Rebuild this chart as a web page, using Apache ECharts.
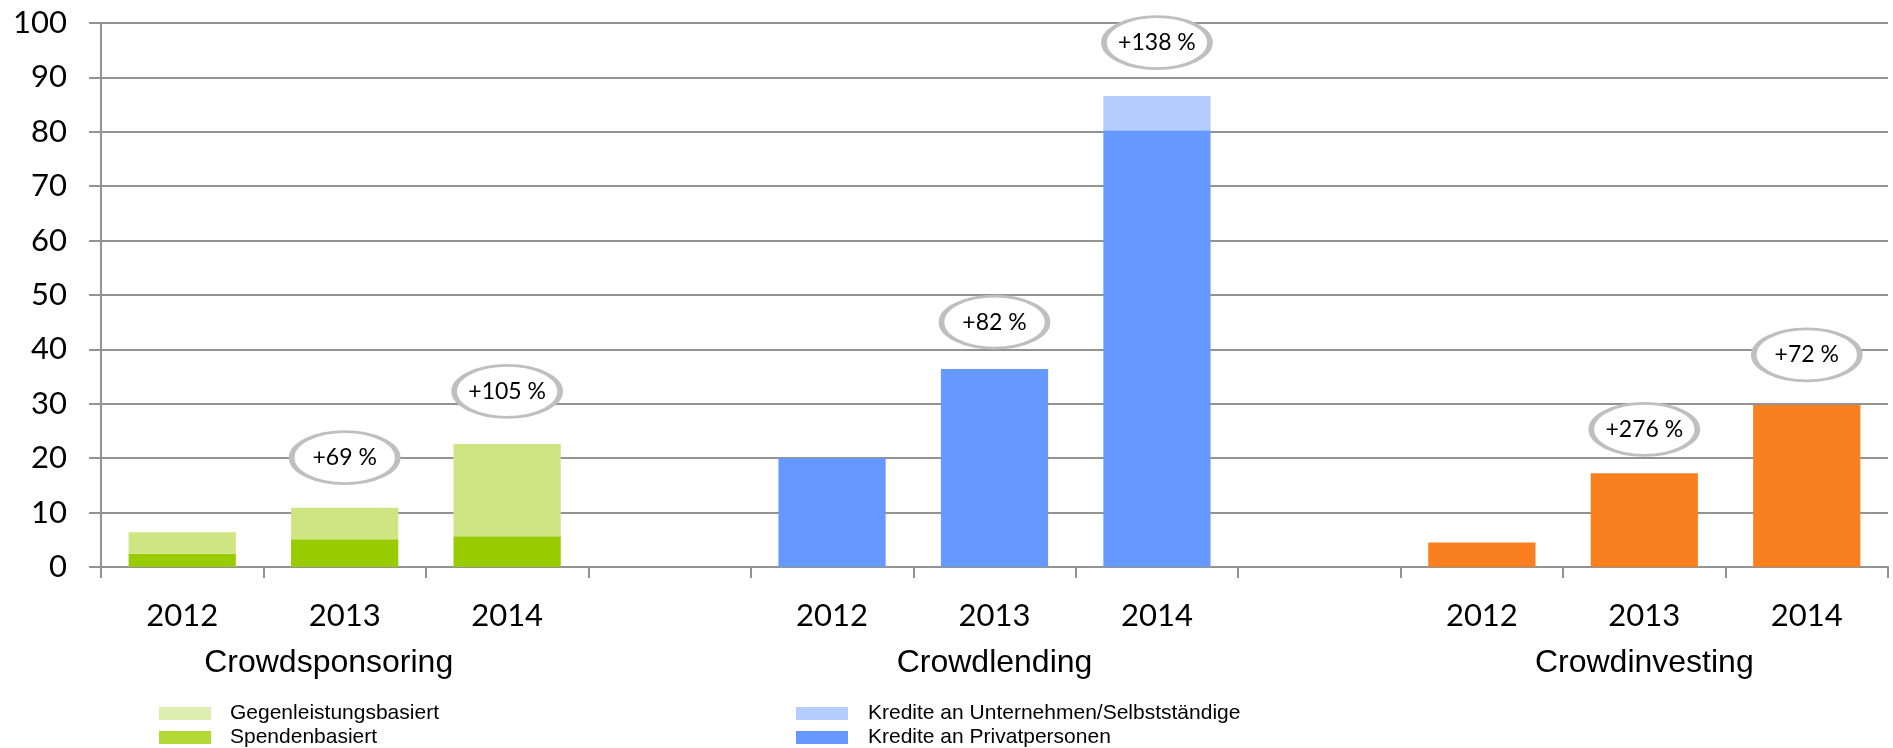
<!DOCTYPE html>
<html>
<head>
<meta charset="utf-8">
<title>Crowdfunding</title>
<script src="https://cdn.jsdelivr.net/npm/echarts@6/dist/echarts.min.js"></script>
<style>
    html, body { margin: 0; padding: 0; background: #fff; }
    #main { width: 1893px; height: 748px; }
</style>
</head>
<body>
<div id="main"></div>
<script>
    // slots: 3 years per segment, empty slot between the segments
    var years = ["2012", "2013", "2014", "", "2012", "2013", "2014", "", "2012", "2013", "2014"];
    var groups = ["", "Crowdsponsoring", "", "", "", "Crowdlending", "", "", "", "Crowdinvesting", ""];

    var spenden = [2.45, 5.1, 5.65, "-", "-", "-", "-", "-", "-", "-", "-"];
    var gegenleistung = [3.95, 5.8, 16.95, "-", "-", "-", "-", "-", "-", "-", "-"];
    var privat = ["-", "-", "-", "-", 20.0, 36.4, 80.3, "-", "-", "-", "-"];
    var unternehmen = ["-", "-", "-", "-", 0, 0, 6.3, "-", "-", "-", "-"];
    var investing = ["-", "-", "-", "-", "-", "-", "-", "-", 4.5, 17.25, 29.8];

    // growth bubbles above the bars
    var growthLabels = ["", "+69 %", "+105 %", "", "", "+82 %", "+138 %", "", "", "+276 %", "+72 %"];
    var growthPos = [null, 20.1, 32.3, null, null, 45.0, 96.4, null, null, 25.3, 39.0];

    var GRID = "#939393";
    var NUM_FONT = "Lato";
    var TXT_FONT = "Liberation Sans";

    var bubbles = [];
    for (var i = 0; i < growthLabels.length; i++) {
        if (growthLabels[i]) {
            bubbles.push({ name: growthLabels[i], value: [i, growthPos[i]] });
        }
    }

    function legendBox(left, textGap, items) {
        return {
            orient: "vertical",
            left: left,
            top: 703,
            padding: 0,
            itemWidth: 52,
            itemHeight: 13,
            itemGap: 3,
            icon: "rect",
            selectedMode: false,
            textStyle: { fontFamily: TXT_FONT, fontSize: 21, lineHeight: 21, color: "#000", padding: [0, 0, 0, textGap] },
            data: items
        };
    }

    var myChart = echarts.init(document.getElementById("main"));

    var option = {
        animation: false,
        backgroundColor: "#fff",
        grid: { left: 101, right: 5, top: 23, bottom: 181 },
        legend: [
            legendBox(159, 14, [
                { name: "Gegenleistungsbasiert", itemStyle: { color: "#dcefb0" } },
                { name: "Spendenbasiert", itemStyle: { color: "#b2d935" } }
            ]),
            legendBox(796, 15, [
                { name: "Kredite an Unternehmen/Selbstständige", itemStyle: { color: "#b4ccff" } },
                { name: "Kredite an Privatpersonen", itemStyle: { color: "#6699ff" } }
            ])
        ],
        xAxis: [{
            type: "category",
            data: years,
            axisLine: { lineStyle: { color: GRID, width: 2 } },
            axisTick: { show: true, interval: 0, length: 11, lineStyle: { color: GRID, width: 2 } },
            axisLabel: { interval: 0, margin: 33, fontFamily: NUM_FONT, fontSize: 31, color: "#000" }
        }, {
            type: "category",
            data: groups,
            position: "bottom",
            axisLine: { show: false },
            axisTick: { show: false },
            axisLabel: {
                interval: 0,
                margin: 80,
                fontFamily: TXT_FONT,
                fontSize: 32,
                color: "#000",
                formatter: function (v) {
                    return v === "Crowdsponsoring" ? "{l|" + v + "}" : v;
                },
                rich: {
                    l: { fontFamily: TXT_FONT, fontSize: 32, color: "#000", padding: [0, 32, 0, 0] }
                }
            }
        }],
        yAxis: {
            type: "value",
            min: 0,
            max: 100,
            interval: 10,
            axisLine: { show: true, lineStyle: { color: GRID, width: 2 } },
            axisTick: { show: true, length: 12, lineStyle: { color: GRID, width: 2 } },
            splitLine: { lineStyle: { color: GRID, width: 2 } },
            axisLabel: { margin: 34, fontFamily: NUM_FONT, fontSize: 31, color: "#000" }
        },
        series: [{
            name: "Spendenbasiert",
            type: "bar",
            stack: "all",
            barWidth: "66%",
            itemStyle: { color: "#99cc00" },
            data: spenden
        }, {
            name: "Gegenleistungsbasiert",
            type: "bar",
            stack: "all",
            itemStyle: { color: "#cfe584" },
            data: gegenleistung
        }, {
            name: "Kredite an Privatpersonen",
            type: "bar",
            stack: "all",
            itemStyle: { color: "#6699ff" },
            data: privat
        }, {
            name: "Kredite an Unternehmen/Selbstständige",
            type: "bar",
            stack: "all",
            itemStyle: { color: "#b4ccff" },
            data: unternehmen
        }, {
            name: "Crowdinvesting",
            type: "bar",
            stack: "all",
            itemStyle: { color: "#fa7f1e" },
            data: investing
        }, {
            name: "Wachstum",
            type: "scatter",
            symbol: "circle",
            symbolSize: [106, 52],
            silent: true,
            z: 5,
            itemStyle: { color: "#fff", borderColor: "#bfbfbf", borderWidth: 4, opacity: 1 },
            label: {
                show: true,
                position: "inside",
                formatter: "{b}",
                fontFamily: NUM_FONT,
                fontSize: 23,
                color: "#000"
            },
            data: bubbles
        }]
    };

    myChart.setOption(option);
    window.myChart = myChart;
</script>
</body>
</html>
